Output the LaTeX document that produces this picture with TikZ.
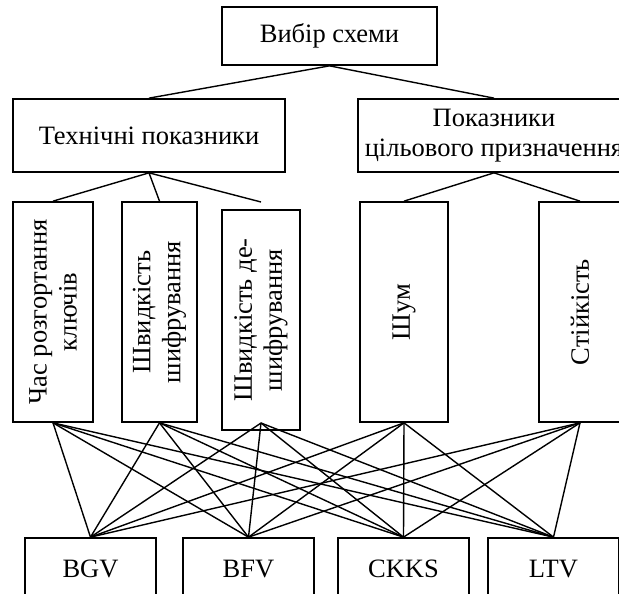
\documentclass[tikz,border=0pt]{standalone}
\usepackage{fontspec}
\setmainfont{Liberation Serif}
\begin{document}
\begin{tikzpicture}[x=1pt,y=-1pt,
  every node/.style={font=\fontsize{26.5}{30}\selectfont, inner sep=0pt},
  box/.style={draw, line width=1.7pt, align=center},
  vbox/.style={draw, line width=1.7pt, align=center, rotate=90, minimum width=220pt},
  link/.style={line width=1.4pt},
  lowbox/.style={draw, line width=1.7pt, minimum width=131pt, minimum height=62pt}]
\useasboundingbox (0,0) rectangle (619,594);

% top levels
\node[box, minimum width=215pt, minimum height=58pt] (top) at (329.5,36) {Вибір схеми};
\node[box, minimum width=272pt, minimum height=73pt] (tech) at (149,135.5) {Технічні показники};
\node[box, minimum width=272pt, minimum height=73pt] (purp) at (494,135.5) {Показники\\цільового призначення};

% vertical boxes
\node[vbox, minimum height=80pt] (k1) at (53,312) {Час розгортання\\ключів};
\node[vbox, minimum height=75pt] (k2) at (159.5,312) {Швидкість\\шифрування};
\node[vbox, minimum height=78pt] (k3) at (261,320) {Швидкість де-\\шифрування};
\node[vbox, minimum height=88pt] (k4) at (404,312) {Шум};
\node[vbox, minimum height=82pt] (k5) at (580,312) {Стійкість};

\coordinate (k3top) at (261,202);
\coordinate (k3bot) at (261,423);

% bottom boxes
\node[lowbox] (bgv) at (90.5,569) {BGV};
\node[lowbox] (bfv) at (248.5,569) {BFV};
\node[lowbox] (ckks) at (403.5,569) {CKKS};
\node[lowbox] (ltv) at (553.5,569) {LTV};

% connectors
\draw[link] (top.south) -- (tech.north);
\draw[link] (top.south) -- (purp.north);
\draw[link] (tech.south) -- (k1.east);
\draw[link] (tech.south) -- (k2.east);
\draw[link] (tech.south) -- (k3top);
\draw[link] (purp.south) -- (k4.east);
\draw[link] (purp.south) -- (k5.east);

\foreach \u in {k1.west,k2.west,k3bot,k4.west,k5.west}{
  \foreach \l in {bgv,bfv,ckks,ltv}{
    \draw[link] (\u) -- (\l.north);
  }
}
\end{tikzpicture}
\end{document}
